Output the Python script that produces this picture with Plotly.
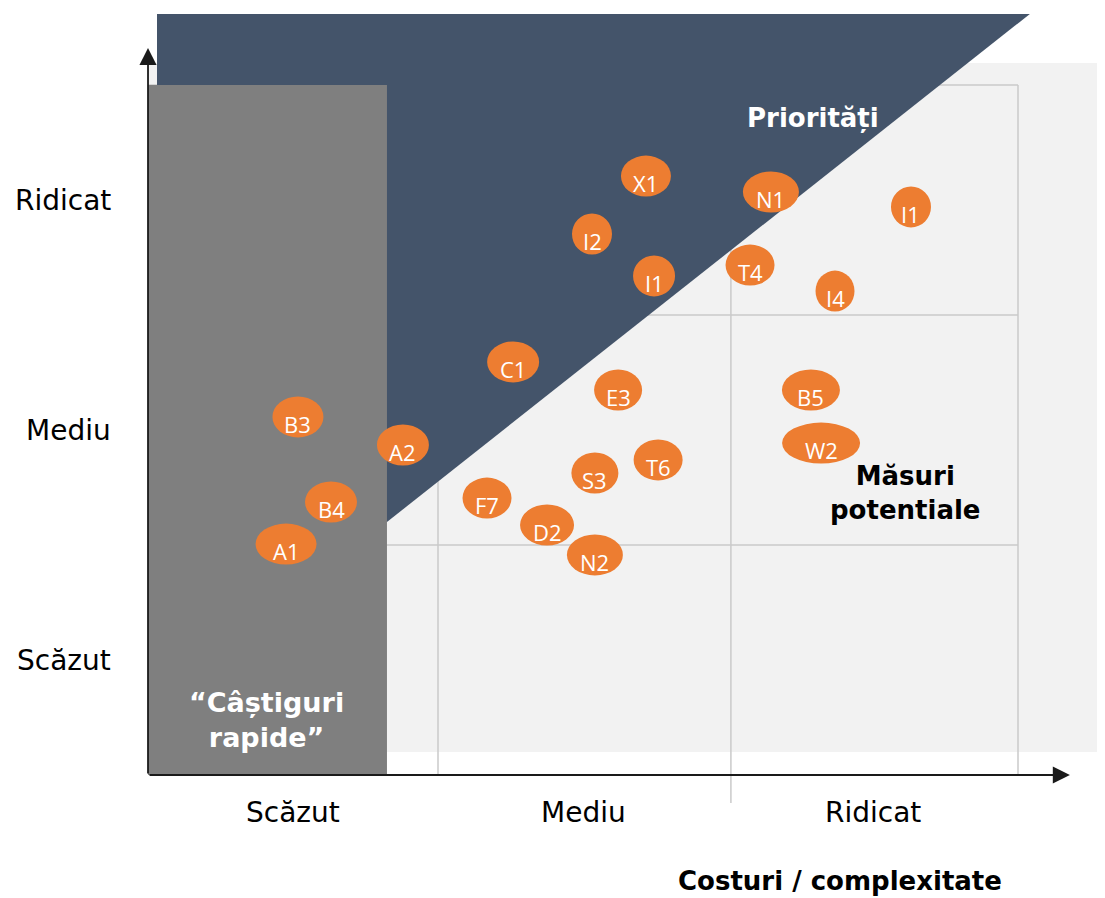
import plotly.graph_objects as go

# measures: label, cost (0-3), impact (0-3)
labels = ["X1", "N1", "I2", "I1", "T4", "I4", "I1", "C1", "E3", "B5", "W2",
          "B3", "A2", "B4", "A1", "F7", "S3", "T6", "D2", "N2"]
cost = [1.717, 2.148, 1.531, 1.745, 2.076, 2.369, 2.631, 1.259, 1.621, 2.286, 2.321,
        0.517, 0.879, 0.631, 0.476, 1.169, 1.541, 1.759, 1.376, 1.541]
impact = [2.604, 2.535, 2.352, 2.170, 2.217, 2.104, 2.470, 1.796, 1.674, 1.674, 1.443,
          1.557, 1.435, 1.187, 1.004, 1.204, 1.313, 1.370, 1.087, 0.957]

level_names = ["Scăzut", "Mediu", "Ridicat"]
level_pos = [0.5, 1.5, 2.5]

# bubble widths in px (style only)
bubble_w = [50, 56, 40, 42, 49, 39, 40, 52, 48, 58, 78,
            51, 52, 52, 61, 49, 47, 49, 54, 56]
bubble_h = 41

NAVY = "#44546a"
GREY = "#7f7f7f"
ORANGE = "#ed7d31"
LIGHT = "#f2f2f2"
GRID = "#cacaca"

fig = go.Figure()

shapes = []
# light background of the matrix
shapes.append(dict(type="rect", x0=0, x1=3.3, y0=0.1, y1=3.096,
                   fillcolor=LIGHT, line_width=0, layer="below"))
# grid
for v in [1, 2, 3]:
    shapes.append(dict(type="line", x0=0, x1=3, y0=v, y1=v,
                       line=dict(color=GRID, width=1.5), layer="below"))
shapes.append(dict(type="line", x0=1, x1=1, y0=0, y1=3, line=dict(color=GRID, width=1.5), layer="below"))
shapes.append(dict(type="line", x0=2.01, x1=2.01, y0=-0.122, y1=3, line=dict(color=GRID, width=1.5), layer="below"))
shapes.append(dict(type="line", x0=3, x1=3, y0=0, y1=3, line=dict(color=GRID, width=1.5), layer="below"))
# priorities triangle
shapes.append(dict(type="path", path="M 0.031 3.309 L 3.041 3.309 L 0.824 1.1 L 0.031 1.1 Z",
                   fillcolor=NAVY, line_width=0, layer="below"))
# quick wins column
shapes.append(dict(type="rect", x0=0, x1=0.824, y0=0, y1=3.0,
                   fillcolor=GREY, line_width=0, layer="below"))

# bubbles
for x, y, w in zip(cost, impact, bubble_w):
    shapes.append(dict(type="circle", xref="x", yref="y",
                       xsizemode="pixel", ysizemode="pixel",
                       xanchor=x, yanchor=y,
                       x0=-w / 2, x1=w / 2, y0=-bubble_h / 2, y1=bubble_h / 2,
                       fillcolor=ORANGE, line_width=0))

annotations = []
for lab, x, y in zip(labels, cost, impact):
    annotations.append(dict(x=x, y=y, text=lab, showarrow=False, yshift=-7,
                            font=dict(family="Open Sans", size=22, color="white")))

# axes with arrows
annotations.append(dict(x=0, y=3.161, ax=0, ay=0, xref="x", yref="y", axref="x", ayref="y",
                        showarrow=True, arrowhead=2, arrowsize=1.9, arrowwidth=1.8,
                        arrowcolor="#1a1a1a", text=""))
annotations.append(dict(x=3.179, y=0, ax=0, ay=0, xref="x", yref="y", axref="x", ayref="y",
                        showarrow=True, arrowhead=2, arrowsize=1.9, arrowwidth=1.8,
                        arrowcolor="#1a1a1a", text=""))

tick_font = dict(family="DejaVu Sans", size=28, color="black")
for name, p in zip(level_names, level_pos):
    annotations.append(dict(x=-0.121, y=p, text=name, showarrow=False, xanchor="right",
                            font=tick_font))
    annotations.append(dict(x=p, y=-0.165, text=name, showarrow=False, font=tick_font))

bold = "DejaVu Sans"
annotations.append(dict(x=2.386, y=-0.462, text="<b>Costuri / complexitate</b>", showarrow=False,
                        font=dict(family=bold, size=26, color="black")))
annotations.append(dict(x=2.293, y=2.857, text="<b>Priorități</b>", showarrow=False,
                        font=dict(family=bold, size=26, color="white")))
annotations.append(dict(x=2.61, y=1.226, text="<b>Măsuri<br>potentiale</b>", showarrow=False,
                        font=dict(family=bold, size=26, color="black")))
annotations.append(dict(x=0.41, y=0.239, text="<b>“Câștiguri<br>rapide”</b>", showarrow=False,
                        font=dict(family=bold, size=27, color="white")))

# page body has an 8px margin, so the figure is 8px smaller on each axis
fig.update_layout(
    width=1097, height=890,
    margin=dict(l=0, r=0, t=0, b=0),
    paper_bgcolor="white", plot_bgcolor="white",
    shapes=shapes, annotations=annotations,
    showlegend=False,
    xaxis=dict(range=[-0.4828, 3.3], visible=False, fixedrange=True),
    yaxis=dict(range=[-0.5348, 3.3348], visible=False, fixedrange=True),
)

fig.write_html("out.html")
